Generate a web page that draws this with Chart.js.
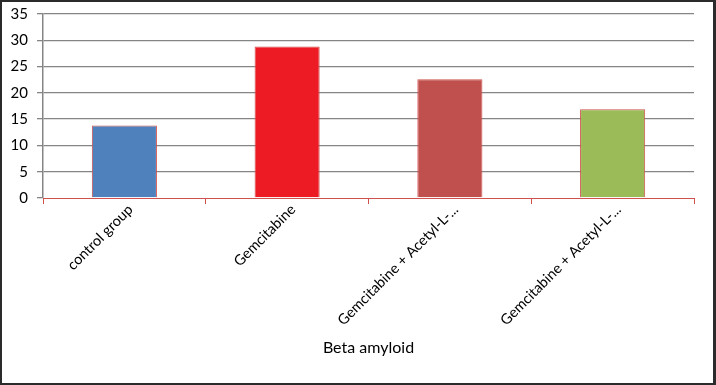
<!DOCTYPE html>
<html>
<head>
<meta charset="utf-8">
<script src="https://cdn.jsdelivr.net/npm/chart.js@4"></script>
<style>
  html, body { margin: 0; padding: 0; background: #fff; }
  #frame { width: 716px; height: 385px; box-sizing: border-box; border: 2px solid #2b2b2b; border-right-width: 3px; position: relative; background: #fff; }
  #c { display: block; }
</style>
</head>
<body>
<div id="frame"><canvas id="c" width="711" height="381"></canvas></div>
<script>
const categories = ["control group", "Gemcitabine", "Gemcitabine + Acetyl-L-...", "Gemcitabine + Acetyl-L-..."];
const values = [13.8, 28.8, 22.6, 16.9];
const barColors = ["#4F81BD", "#ED1C24", "#C0504D", "#9BBB59"];
const yTicks = [0, 5, 10, 15, 20, 25, 30, 35];
const xTitle = "Beta amyloid";

const FONT = "Lato, 'Liberation Sans', sans-serif";

new Chart(document.getElementById("c"), {
  type: "bar",
  data: {
    labels: categories,
    datasets: [{
      data: values,
      backgroundColor: barColors,
      borderColor: "#D0504D",
      borderWidth: 1,
      barPercentage: 0.4,
      categoryPercentage: 1.0
    }]
  },
  options: {
    responsive: false,
    animation: false,
    devicePixelRatio: 1,
    layout: { padding: { top: 12, right: 19, left: 0, bottom: 0 } },
    plugins: { legend: { display: false }, tooltip: { enabled: false } },
    scales: {
      x: {
        grid: { drawOnChartArea: false, drawTicks: true, tickLength: 6, color: "#D0504D", offset: true },
        border: { display: true, color: "#D0504D", width: 1 },
        ticks: { font: { family: FONT, size: 14.5 }, color: "#000", minRotation: 45, maxRotation: 45, autoSkip: false, padding: -3, labelOffset: 6 },
        title: { display: true, text: xTitle, font: { family: FONT, size: 16 }, color: "#000", padding: { top: 0, bottom: 26 } },
        afterFit: (s) => { s.height = 185; s.paddingLeft = 0; s.paddingRight = 0; }
      },
      y: {
        min: 0, max: 35,
        afterBuildTicks: (s) => { s.ticks = yTicks.map(v => ({ value: v })); },
        grid: {
          color: (ctx) => ctx.tick && ctx.tick.value === 0 ? "rgba(0,0,0,0)" : "#858585",
          lineWidth: 1.3,
          tickLength: 6,
          tickColor: "#858585"
        },
        border: { display: true, color: "#858585", width: 1.5 },
        ticks: { font: { family: FONT, size: 15 }, color: "#000", padding: 9 },
        afterFit: (s) => { s.width = 41; s.paddingTop = 0; s.paddingBottom = 0; }
      }
    }
  }
});
</script>
</body>
</html>
